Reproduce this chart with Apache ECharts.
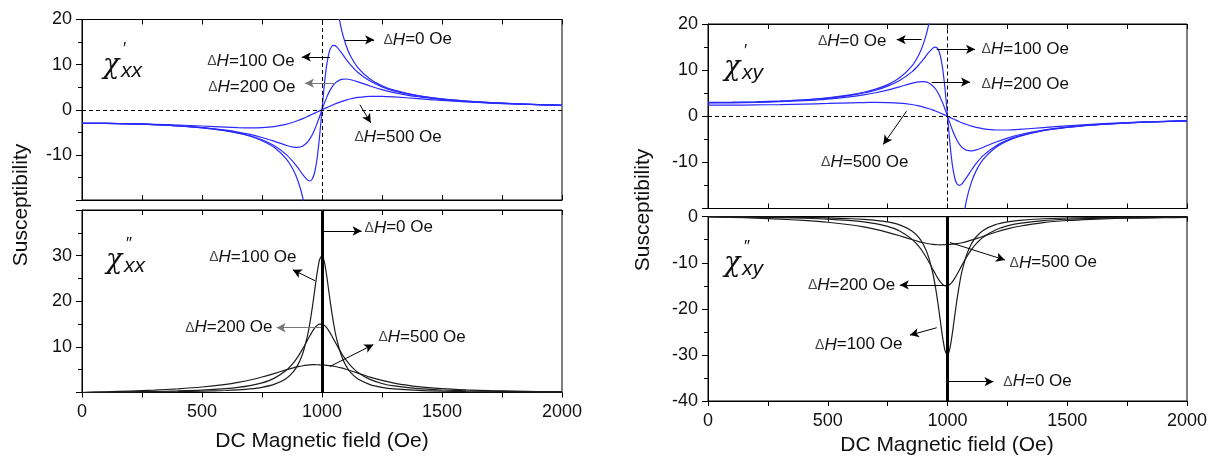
<!DOCTYPE html>
<html><head><meta charset="utf-8">
<script src="https://cdn.jsdelivr.net/npm/echarts@6/dist/echarts.min.js"></script>
<style>html,body{margin:0;padding:0;background:#fff}#c{width:1214px;height:464px}</style>
</head><body><div id="c"></div>
<script>
// ---------- data ----------
const fieldOe = [0,100,200,300,400,500,600,650,700,750,800,850,880,900,920,940,950,960,970,980,990,1000,1010,1020,1030,1040,1050,1060,1080,1100,1120,1150,1200,1250,1300,1400,1500,1600,1700,1800,1900,2000];
const resonanceField = 1000;
const xTicks = [0, 500, 1000, 1500, 2000];

// chi'_xx
const xxRe0   = [-3,-3.03,-3.13,-3.3,-3.57,-4,-4.69,-5.2,-5.88,-6.86,-8.33,-10.81,-13.3,-15.79,-19.53,-25.77,-30.77,-38.27,null,null,null,null,null,null,null,36.76,29.27,24.27,18.03,14.29,11.79,9.3,6.82,5.33,4.35,3.13,2.4,1.92,1.59,1.34,1.15,1.0];
const xxRe100 = [-3,-3.03,-3.12,-3.29,-3.56,-3.98,-4.65,-5.13,-5.77,-6.66,-7.94,-9.88,-11.54,-12.9,-14.38,-15.6,-15.79,-15.31,-13.74,-10.64,-5.86,0,5.69,10.07,12.76,14.01,14.28,13.99,12.69,11.21,9.88,8.25,6.35,5.08,4.2,3.06,2.37,1.9,1.58,1.33,1.14,1.0];
const xxRe200 = [-3,-3.03,-3.12,-3.28,-3.54,-3.93,-4.53,-4.94,-5.47,-6.14,-6.96,-7.86,-8.27,-8.32,-8.02,-7.14,-6.41,-5.47,-4.31,-2.97,-1.51,0,1.46,2.8,3.96,4.9,5.63,6.16,6.72,6.81,6.64,6.17,5.26,4.45,3.81,2.88,2.27,1.85,1.54,1.31,1.13,0.98];
const xxRe500 = [-3,-3.02,-3.09,-3.21,-3.38,-3.6,-3.84,-3.95,-4.0,-3.95,-3.73,-3.23,-2.77,-2.39,-1.96,-1.49,-1.24,-0.99,-0.74,-0.49,-0.24,0,0.24,0.48,0.72,0.95,1.18,1.4,1.8,2.14,2.43,2.73,2.98,2.98,2.85,2.46,2.07,1.74,1.48,1.28,1.11,0.97];

// chi''_xx
const xxIm100 = [0,0.03,0.07,0.11,0.17,0.27,0.44,0.58,0.79,1.14,1.77,3.03,4.5,6.11,8.61,12.6,15.38,18.75,22.56,26.32,29.13,30,28.57,25.42,21.58,17.85,14.63,11.99,8.23,5.87,4.35,2.94,1.73,1.13,0.79,0.45,0.28,0.2,0.14,0.11,0.08,0.07];
const xxIm200 = [0,0.06,0.13,0.22,0.34,0.52,0.85,1.11,1.5,2.1,3.09,4.82,6.45,7.88,9.61,11.54,12.5,13.39,14.15,14.71,15.0,15.0,14.71,14.15,13.39,12.5,11.54,10.56,8.72,7.14,5.85,4.4,2.87,1.98,1.44,0.84,0.55,0.38,0.28,0.21,0.16,0.13];
const xxIm500 = [0,0.15,0.32,0.53,0.81,1.2,1.8,2.22,2.74,3.39,4.14,4.95,5.4,5.66,5.87,6.01,6.06,6.09,6.1,6.08,6.05,6.0,5.99,5.96,5.91,5.84,5.76,5.65,5.4,5.1,4.77,4.24,3.38,2.65,2.07,1.28,0.83,0.56,0.39,0.29,0.21,0.16];

// chi'_xy
const xyRe0   = [3,3.03,3.13,3.3,3.57,4,4.69,5.2,5.88,6.86,8.33,10.81,13.3,15.79,19.53,25.77,30.77,38.27,null,null,null,null,null,null,null,-36.76,-29.27,-24.27,-18.03,-14.29,-11.79,-9.3,-6.82,-5.33,-4.35,-3.13,-2.4,-1.92,-1.59,-1.34,-1.15,-1.0];
const xyRe100 = [2.97,3.0,3.09,3.26,3.52,3.93,4.58,5.04,5.67,6.52,7.74,9.57,11.11,12.36,13.72,14.83,15.0,14.57,13.14,10.27,5.74,0,-5.8,-10.42,-13.33,-14.69,-15.0,-14.67,-13.25,-11.65,-10.21,-8.49,-6.48,-5.17,-4.26,-3.09,-2.39,-1.92,-1.58,-1.34,-1.15,-1.0];
const xyRe200 = [2.89,2.91,3.0,3.15,3.38,3.73,4.27,4.64,5.1,5.67,6.37,7.12,7.45,7.49,7.25,6.52,5.91,5.1,4.08,2.86,1.48,0,-1.49,-2.91,-4.18,-5.25,-6.09,-6.71,-7.38,-7.49,-7.29,-6.72,-5.65,-4.74,-4.01,-3.0,-2.34,-1.89,-1.57,-1.33,-1.14,-1.0];
const xyRe500 = [2.4,2.41,2.46,2.53,2.64,2.77,2.91,2.97,3.0,2.97,2.85,2.55,2.25,1.99,1.68,1.33,1.13,0.92,0.7,0.47,0.24,0,-0.24,-0.48,-0.72,-0.95,-1.18,-1.4,-1.8,-2.14,-2.43,-2.73,-2.98,-2.98,-2.85,-2.46,-2.07,-1.74,-1.48,-1.28,-1.11,-0.97];

// chi''_xy
const xyIm100 = [0,-0.03,-0.07,-0.11,-0.17,-0.27,-0.44,-0.58,-0.79,-1.14,-1.77,-3.03,-4.5,-6.11,-8.61,-12.6,-15.38,-18.75,-22.56,-26.32,-29.13,-30,-28.57,-25.42,-21.58,-17.85,-14.63,-11.99,-8.23,-5.87,-4.35,-2.94,-1.73,-1.13,-0.79,-0.45,-0.28,-0.2,-0.14,-0.11,-0.08,-0.07];
const xyIm200 = [0,-0.06,-0.13,-0.22,-0.34,-0.52,-0.85,-1.11,-1.5,-2.1,-3.09,-4.82,-6.45,-7.88,-9.61,-11.54,-12.5,-13.39,-14.15,-14.71,-15.0,-15.0,-14.71,-14.15,-13.39,-12.5,-11.54,-10.56,-8.72,-7.14,-5.85,-4.4,-2.87,-1.98,-1.44,-0.84,-0.55,-0.38,-0.28,-0.21,-0.16,-0.13];
const xyIm500 = [0,-0.15,-0.32,-0.53,-0.81,-1.2,-1.8,-2.22,-2.74,-3.39,-4.14,-4.95,-5.4,-5.66,-5.87,-6.01,-6.06,-6.09,-6.1,-6.08,-6.05,-6.0,-5.99,-5.96,-5.91,-5.84,-5.76,-5.65,-5.4,-5.1,-4.77,-4.24,-3.38,-2.65,-2.07,-1.28,-0.83,-0.56,-0.39,-0.29,-0.21,-0.16];

// ---------- annotations (data coordinates) ----------
const annotations = [
  { arrows: [
      {from:[1096,15.5], to:[1217,15.5]},
      {from:[1033,11.7], to:[916,11.7]},
      {from:[1054,5.9],  to:[929,5.9], color:'#777'},
      {from:[1158,1.1],  to:[1203,-2.9]} ],
    labels: [
      {at:[1250,15.5], side:'right', dh:'0'},
      {at:[892,10.8],  side:'left',  dh:'100'},
      {at:[896,4.9],   side:'left',  dh:'200'},
      {at:[1129,-6.0], side:'right', dh:'500'} ] },
  { arrows: [
      {from:[1005,35.4], to:[1165,35.4]},
      {from:[971,24.5],  to:[878,26.9]},
      {from:[999,14.2],  to:[811,14.2], color:'#777'},
      {from:[1033,5.7],  to:[1214,10.5]} ],
    labels: [
      {at:[1171,36.1], side:'right', dh:'0'},
      {at:[900,29.7],  side:'left',  dh:'100'},
      {at:[800,14.2],  side:'left',  dh:'200'},
      {at:[1229,12.2], side:'right', dh:'500'} ] },
  { arrows: [
      {from:[892,16.6], to:[788,16.6]},
      {from:[955,14.5], to:[1115,14.5]},
      {from:[934,7.4],  to:[1094,7.4]},
      {from:[829,1.1],  to:[732,-6.1]} ],
    labels: [
      {at:[751,16.2],   side:'left',  dh:'0'},
      {at:[1136,14.5],  side:'right', dh:'100'},
      {at:[1136,6.9],   side:'right', dh:'200'},
      {at:[466,-10.0],  side:'right', dh:'500'} ] },
  { arrows: [
      {from:[1010,-5.6],  to:[1240,-9.4]},
      {from:[997,-14.8],  to:[801,-14.8]},
      {from:[955,-24.1],  to:[843,-25.7]},
      {from:[1003,-35.8], to:[1192,-35.8]} ],
    labels: [
      {at:[1253,-10.0], side:'right', dh:'500'},
      {at:[788,-14.8],  side:'left',  dh:'200'},
      {at:[818,-27.8],  side:'left',  dh:'100'},
      {at:[1227,-35.8], side:'right', dh:'0'} ] }
];

// ---------- chart ----------
const FONT = '"Liberation Sans", Arial, sans-serif';
const BLUE = '#2a2aff';
const DARK = '#1c1c1c';

const grids = [
  {left:82,  top:19.5,  width:480, height:180.5},
  {left:82,  top:210,   width:480, height:182.5},
  {left:708, top:24,    width:479, height:184.5},
  {left:708, top:216.7, width:479, height:184.3}
].map(g => Object.assign({show:true, borderColor:'#000', borderWidth:1, backgroundColor:'transparent'}, g));

const isBottom = [false, true, false, true];
const yRanges = [[-20,20],[0,40],[-20,20],[-40,0]];

const xAxes = [];
grids.forEach((g, i) => {
  xAxes.push({
    gridIndex:i, type:'value', min:xTicks[0], max:xTicks[xTicks.length-1], interval:xTicks[1]-xTicks[0], position:'bottom',
    axisLine:{show:true, onZero:false, lineStyle:{color:'#000', width:1}},
    axisTick:{show:true, inside:!isBottom[i], length:5, lineStyle:{color:'#000'}},
    minorTick:{show:true, splitNumber:2, length:5, lineStyle:{color:'#000'}},
    splitLine:{show:false},
    axisLabel:{show:isBottom[i], fontSize:18, color:'#111', fontFamily:FONT, margin:isBottom[i] ? 11 : 8,
      formatter: v => String(v)}
  });
  xAxes.push({
    gridIndex:i, type:'value', min:xTicks[0], max:xTicks[xTicks.length-1], interval:xTicks[1]-xTicks[0], position:'top',
    axisLine:{show:true, onZero:false, lineStyle:{color:'#000', width:1}},
    axisTick:{show:true, inside:true, length:5, lineStyle:{color:'#000'}},
    minorTick:{show:true, splitNumber:2, length:5, lineStyle:{color:'#000'}},
    splitLine:{show:false}, axisLabel:{show:false}
  });
});

const yAxes = grids.map((g, i) => ({
  gridIndex:i, type:'value', min:yRanges[i][0], max:yRanges[i][1], interval:10, position:'left',
  axisLine:{show:true, onZero:false, lineStyle:{color:'#000', width:1}},
  axisTick:{show:true, inside:false, length:6, lineStyle:{color:'#000'}},
  minorTick:{show:true, splitNumber:2, length:4, lineStyle:{color:'#000'}},
  splitLine:{show:false},
  axisLabel:{fontSize:18, color:'#111', fontFamily:FONT, margin:10, formatter: v => String(v),
    showMinLabel: i === 3, showMaxLabel: i !== 1}
}));

function pairs(arr) { return fieldOe.map((h, k) => [h, arr[k]]); }

function curve(gi, arr, color, extra) {
  return Object.assign({
    type:'line', xAxisIndex:gi*2, yAxisIndex:gi, data:pairs(arr),
    smooth:0.25, showSymbol:false, symbol:'none', connectNulls:false,
    lineStyle:{color:color, width:1.2}, itemStyle:{color:color}, z:3, silent:true, animation:false
  }, extra || {});
}

function arrowLines(gi) {
  return {
    symbol:['none','arrow'], symbolSize:[7,9], silent:true, animation:false,
    label:{show:false}, emphasis:{disabled:true},
    data: annotations[gi].arrows.map(a => [
      {coord:a.from, lineStyle:{color:a.color || '#000', width:1, type:'solid'}, itemStyle:{color:a.color || '#000'}},
      {coord:a.to}
    ])
  };
}

const richStyles = {
  d:{fontSize:14, color:'#444', fontFamily:FONT},
  h:{fontSize:17, fontStyle:'italic', color:'#111', fontFamily:FONT},
  t:{fontSize:17, color:'#111', fontFamily:FONT}
};

function labelPoints(gi) {
  return {
    symbol:'circle', symbolSize:1, itemStyle:{color:'rgba(0,0,0,0)'}, silent:true, animation:false,
    data: annotations[gi].labels.map(l => ({
      coord:l.at,
      label:{show:true, position:l.side, distance:1,
        formatter:'{d|Δ}{h|H}{t|=' + l.dh + ' Oe}', rich:richStyles}
    }))
  };
}

function refLines(gi, top) {
  const dashed = {color:'#000', width:1, type:[4,3]};
  return {
    symbol:'none', silent:true, animation:false, label:{show:false}, emphasis:{disabled:true},
    data: top
      ? [{xAxis:resonanceField, lineStyle:dashed}, {yAxis:0, lineStyle:dashed}]
      : [{xAxis:resonanceField, lineStyle:{color:'#000', width:3, type:'solid'}}]
  };
}

const series = [
  curve(0, xxRe0, BLUE),
  curve(0, xxRe100, BLUE, {markLine:arrowLines(0)}),
  curve(0, xxRe200, BLUE, {markPoint:labelPoints(0)}),
  curve(0, xxRe500, BLUE, {markLine:refLines(0, true)}),
  curve(1, xxIm100, DARK, {markLine:arrowLines(1)}),
  curve(1, xxIm200, DARK, {markPoint:labelPoints(1)}),
  curve(1, xxIm500, DARK, {markLine:refLines(1, false)}),
  curve(2, xyRe0, BLUE),
  curve(2, xyRe100, BLUE, {markLine:arrowLines(2)}),
  curve(2, xyRe200, BLUE, {markPoint:labelPoints(2)}),
  curve(2, xyRe500, BLUE, {markLine:refLines(2, true)}),
  curve(3, xyIm100, DARK, {markLine:arrowLines(3)}),
  curve(3, xyIm200, DARK, {markPoint:labelPoints(3)}),
  curve(3, xyIm500, DARK, {markLine:refLines(3, false)})
];

function txt(x, y, text, size, opts) {
  return Object.assign({
    type:'text', x:x, y:y, silent:true, z:10,
    style:Object.assign({text:text, fill:'#111', font:size + 'px ' + FONT,
      align:'center', verticalAlign:'middle', textAlign:'center', textVerticalAlign:'middle'}, (opts && opts.style) || {})
  }, (opts && opts.el) || {});
}

function chiSymbol(x, y, sub, primes) {
  const serif = '"DejaVu Serif", "Liberation Serif", serif';
  const base = {align:'left', verticalAlign:'middle', textAlign:'left', textVerticalAlign:'middle', fill:'#111'};
  return [
    {type:'text', x:x, y:y, silent:true, z:10,
      style:Object.assign({text:'χ', font:'italic 27px ' + serif}, base)},
    {type:'text', x:x + 18, y:y + 5, silent:true, z:10,
      style:Object.assign({text:sub, font:'italic 21px ' + FONT}, base)},
    {type:'text', x:x + 20, y:y - 17, silent:true, z:10,
      style:Object.assign({text:primes, font:'17px ' + FONT}, base)}
  ];
}

const graphic = [].concat(
  chiSymbol(103, 66, 'xx', '\u2032'),
  chiSymbol(106, 261, 'xx', '\u2033'),
  chiSymbol(724, 68, 'xy', '\u2032'),
  chiSymbol(724, 264, 'xy', '\u2033'),
  [
    txt(21, 205, 'Susceptibility', 21, {el:{rotation:Math.PI/2}}),
    txt(643, 210, 'Susceptibility', 21, {el:{rotation:Math.PI/2}}),
    txt(322, 441, 'DC Magnetic field (Oe)', 21),
    txt(947, 445, 'DC Magnetic field (Oe)', 21)
  ]
);

const chart = echarts.init(document.getElementById('c'), null, {renderer:'canvas'});
chart.setOption({
  animation:false,
  backgroundColor:'#fff',
  grid:grids,
  xAxis:xAxes,
  yAxis:yAxes,
  series:series,
  graphic:graphic
});
</script>
</body></html>
